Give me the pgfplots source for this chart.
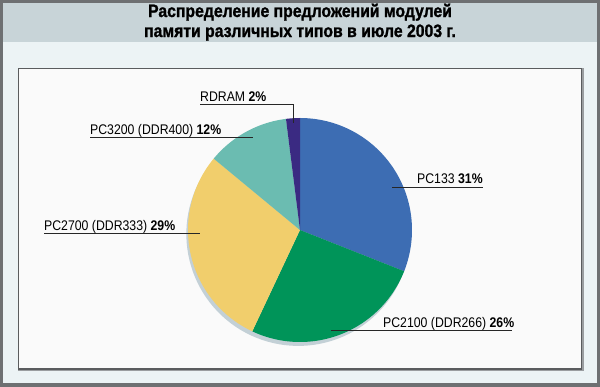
\documentclass[border=0pt]{standalone}
\usepackage{fontspec}
\setmainfont{Liberation Sans}[FakeStretch=0.88]
\newfontfamily\titlefont{Liberation Sans}[FakeStretch=0.88,BoldFeatures={FakeBold=1.3}]
\usepackage{pgfplots}
\pgfplotsset{compat=1.18}
\definecolor{bordergray}{HTML}{6E7072}
\definecolor{lightbg}{HTML}{ECF3F5}
\definecolor{titlebg}{HTML}{C8D4D8}
\definecolor{panelbg}{HTML}{FAFAFA}
\definecolor{panelline}{HTML}{5A5C5E}
\definecolor{panelshadow}{HTML}{9A9DA0}
\definecolor{pieshadow}{HTML}{C3D0D6}
\definecolor{cPCa}{HTML}{3D6DB3}
\definecolor{cPCb}{HTML}{009459}
\definecolor{cPCc}{HTML}{F1CE6C}
\definecolor{cPCd}{HTML}{6BBCB1}
\definecolor{cRD}{HTML}{3A2A82}
% shares, percent (clockwise from 12 o'clock)
\def\pA{31}% PC133
\def\pB{26}% PC2100 (DDR266)
\def\pC{29}% PC2700 (DDR333)
\def\pD{12}% PC3200 (DDR400)
\def\pE{2}%  RDRAM
\pgfmathsetmacro\aO{90}
\pgfmathsetmacro\aA{\aO-3.6*\pA}
\pgfmathsetmacro\aB{\aA-3.6*\pB}
\pgfmathsetmacro\aC{\aB-3.6*\pC}
\pgfmathsetmacro\aD{\aC-3.6*\pD}
\pgfmathsetmacro\aE{\aD-3.6*\pE}
\begin{document}%
\begin{tikzpicture}
\useasboundingbox (0bp,0bp) rectangle (600bp,387bp);
\begin{scope}[x=1bp,y=1bp]
\fill[bordergray] (0,0) rectangle (600,387);
\fill[lightbg] (3,4) rectangle (597,384);
\fill[titlebg] (3,345) rectangle (597,384);
\fill[panelshadow] (18,16) rectangle (583.5,318.5);
\fill[panelline] (18,17.2) rectangle (582.2,318.5);
\fill[panelbg] (19,18.5) rectangle (581,317.5);
\node[anchor=base,inner sep=0] at (300,370) {\titlefont\fontsize{18}{20}\selectfont\bfseries Распределение предложений модулей};
\node[anchor=base,inner sep=0] at (300,350) {\titlefont\fontsize{18}{20}\selectfont\bfseries памяти различных типов в июле 2003 г.};
\end{scope}
\begin{axis}[at={(300bp,157bp)},anchor=center,scale only axis,width=224bp,height=224bp,
  xmin=-1,xmax=1,ymin=-1,ymax=1,hide axis,clip=false]
\addplot[fill=pieshadow,draw=none,domain=0:360,samples=120] ({cos(x)-0.015},{sin(x)-0.035}) -- cycle;
\addplot[fill=cPCa,draw=none,domain=\aA:\aO,samples=80] ({cos(x)},{sin(x)}) -- (0,0) -- cycle;
\addplot[fill=cPCb,draw=none,domain=\aB:\aA,samples=80] ({cos(x)},{sin(x)}) -- (0,0) -- cycle;
\addplot[fill=cPCc,draw=none,domain=\aC:\aB,samples=80] ({cos(x)},{sin(x)}) -- (0,0) -- cycle;
\addplot[fill=cPCd,draw=none,domain=\aD:\aC,samples=40] ({cos(x)},{sin(x)}) -- (0,0) -- cycle;
\addplot[fill=cRD,draw=none,domain=\aE:\aD,samples=10] ({cos(x)},{sin(x)}) -- (0,0) -- cycle;
\end{axis}
\begin{scope}[x=1bp,y=1bp,every node/.style={anchor=base west,inner sep=0,font=\fontsize{14}{16}\selectfont}]
\draw[black!85,line width=0.9bp] (200,282.5) -- (293,282.5) -- (293,264);
\node at (200,285.3) {RDRAM \textbf{2\%}};
\draw[black!85,line width=0.9bp] (90,249.5) -- (253,249.5);
\node at (90,252.3) {PC3200 (DDR400) \textbf{12\%}};
\draw[black!85,line width=0.9bp] (44,153.5) -- (200,153.5);
\node at (44,156.3) {PC2700 (DDR333) \textbf{29\%}};
\draw[black!85,line width=0.9bp] (392,200) -- (483,200);
\node at (417,204) {PC133 \textbf{31\%}};
\draw[black!85,line width=0.9bp] (331,56.3) -- (512,56.3);
\node at (383,59.5) {PC2100 (DDR266) \textbf{26\%}};
\end{scope}
\end{tikzpicture}%
\end{document}
